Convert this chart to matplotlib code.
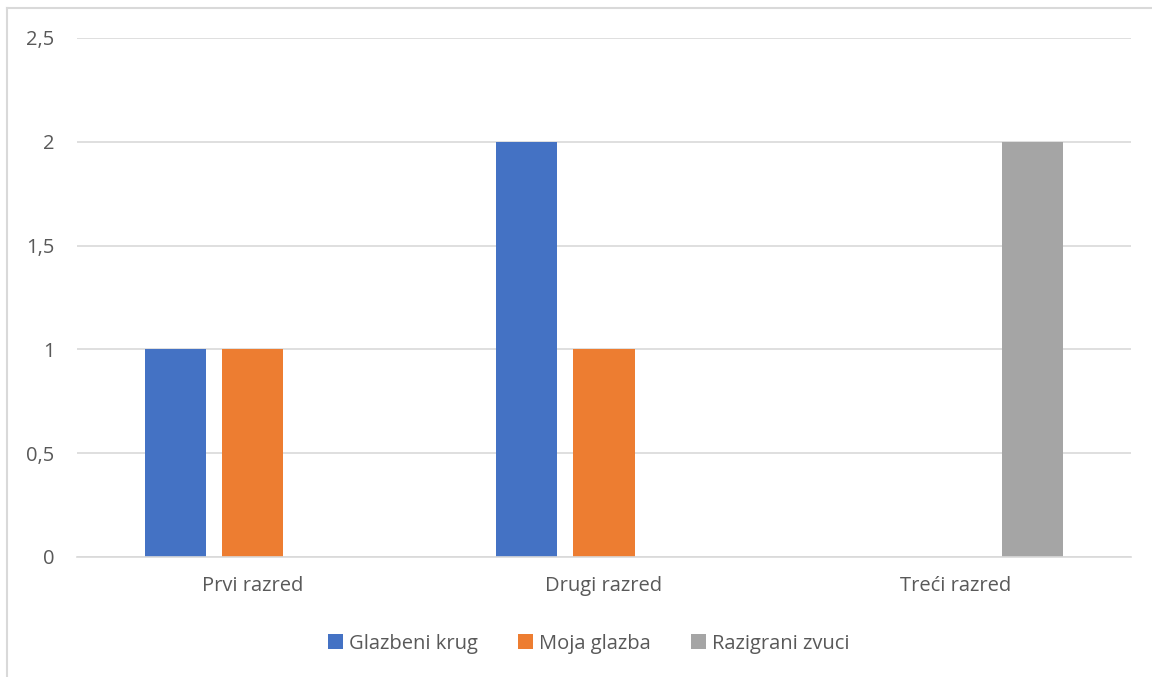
import numpy as np
import matplotlib.pyplot as plt

categories = ["Prvi razred", "Drugi razred", "Treći razred"]
series = ["Glazbeni krug", "Moja glazba", "Razigrani zvuci"]
glazbeni_krug = [1, 2, 0]
moja_glazba = [1, 1, 0]
razigrani_zvuci = [0, 0, 2]
colors = ["#4472C4", "#ED7D31", "#A5A5A5"]
yticks = [0, 0.5, 1, 1.5, 2, 2.5]
ytick_labels = ["0", "0,5", "1", "1,5", "2", "2,5"]

plt.rcParams['font.family'] = ['Open Sans', 'DejaVu Sans']

fig = plt.figure(figsize=(11.52, 6.77), dpi=100)
ax = fig.add_axes([0.0668, 0.1773, 0.9150, 0.7666])

x = np.arange(len(categories))
width = 0.174
offset = 0.22
for i, (vals, name) in enumerate(zip([glazbeni_krug, moja_glazba, razigrani_zvuci], series)):
    ax.bar(x + (i - 1) * offset, vals, width, color=colors[i], label=name, zorder=3)

ax.set_xlim(-0.5, len(categories) - 0.5)
ax.set_ylim(0, 2.5)
ax.set_yticks(yticks)
ax.set_yticklabels(ytick_labels)
ax.set_xticks(x)
ax.set_xticklabels(categories)
ax.tick_params(axis='both', length=0, labelsize=14.5, labelcolor='#595959')
ax.tick_params(axis='y', pad=16)
ax.tick_params(axis='x', pad=14)
ax.grid(axis='y', color='#D9D9D9', linewidth=1.2, zorder=0)
for s in ['top', 'right', 'left']:
    ax.spines[s].set_visible(False)
ax.spines['bottom'].set_color('#D9D9D9')
ax.spines['bottom'].set_linewidth(1.2)
ax.spines['bottom'].set_zorder(4)

leg = fig.legend(loc='center', bbox_to_anchor=(0.511, 0.049), ncol=3, frameon=False,
                 fontsize=14.5, handlelength=0.75, handleheight=0.75, handletextpad=0.3,
                 columnspacing=2.0)
for t in leg.get_texts():
    t.set_color('#595959')

# chart border (left and top visible)
fig.add_artist(plt.Line2D([7/1152, 7/1152], [0, 1 - 8/677], color='#D9D9D9', linewidth=1.5))
fig.add_artist(plt.Line2D([7/1152, 1], [1 - 8/677, 1 - 8/677], color='#D9D9D9', linewidth=1.5))

fig.savefig("out.png", dpi=100)
